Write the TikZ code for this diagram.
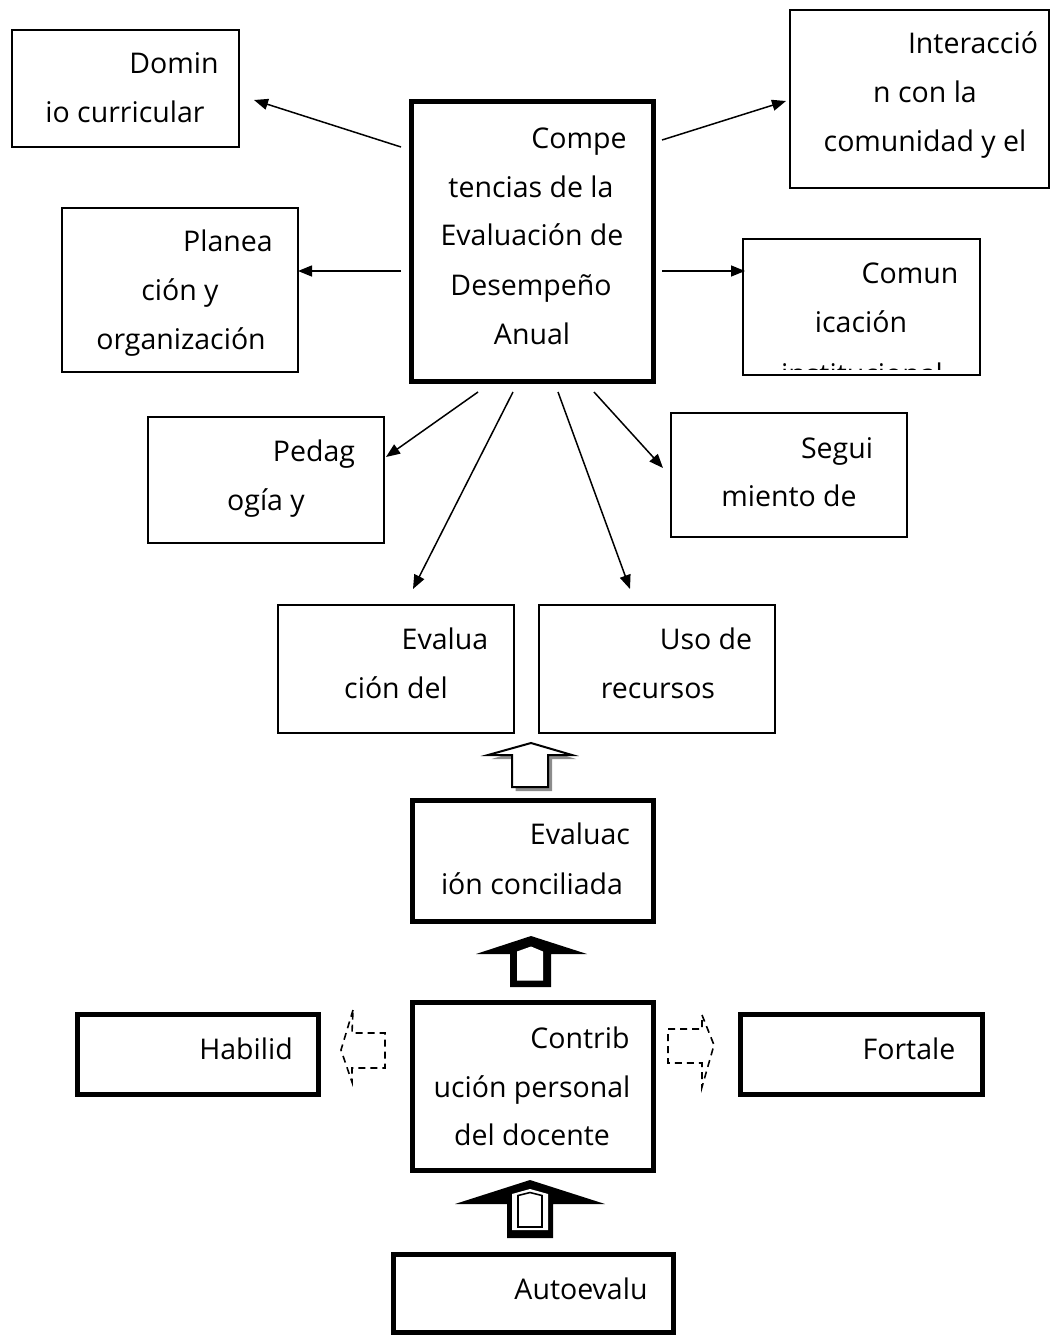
\documentclass[tikz,border=0pt]{standalone}
\usepackage{fontspec}
\setmainfont{Open Sans}
\usetikzlibrary{arrows.meta}
\begin{document}
\begin{tikzpicture}[x=1pt,y=-1pt,
  thinbox/.style={draw=black,line width=1.5pt,inner sep=0pt},
  thickbox/.style={draw=black,line width=5pt,inner sep=0pt},
  txt/.style={anchor=base,inner sep=0pt,font=\fontsize{28.5}{49}\selectfont},
  conn/.style={line width=1.5pt,-{Triangle[length=14pt,width=11pt]}},
  dasharrow/.style={draw=black,line width=1.6pt,dash pattern=on 7pt off 5pt}]
\useasboundingbox (0,0) rectangle (1050,1336);
% thin boxes
\node[thinbox,minimum width=227pt,minimum height=117pt] (dom) at (125.5,88.5) {};
\node[thinbox,minimum width=236pt,minimum height=164pt] (pla) at (180,290) {};
\node[thinbox,minimum width=236pt,minimum height=126pt] (ped) at (266,480) {};
\node[thinbox,minimum width=236pt,minimum height=128pt] (eva) at (396,669) {};
\node[thinbox,minimum width=236pt,minimum height=128pt] (uso) at (657,669) {};
\node[thinbox,minimum width=236pt,minimum height=124pt] (seg) at (789,475) {};
\node[thinbox,minimum width=237pt,minimum height=136pt] (com) at (861.5,307) {};
\node[thinbox,minimum width=259pt,minimum height=178pt] (int) at (919.5,99) {};
% thick boxes
\node[thickbox,minimum width=242pt,minimum height=280pt] (cmp) at (532,241) {};
\node[thickbox,minimum width=241pt,minimum height=121pt] (con) at (532.5,860.5) {};
\node[thickbox,minimum width=241pt,minimum height=168pt] (ctb) at (532.5,1086) {};
\node[thickbox,minimum width=241pt,minimum height=80pt] (hab) at (197.5,1054) {};
\node[thickbox,minimum width=242pt,minimum height=80pt] (for) at (861,1054) {};
\node[thickbox,minimum width=280pt,minimum height=78pt] (aut) at (533,1293) {};
% texts
\node[txt] (t1a) at (174,73) {Domin};
\node[txt] (t1b) at (125,122) {io curricular};
\node[txt] (t2a) at (228,251) {Planea};
\node[txt] (t2b) at (180,300) {ción y};
\node[txt] (t2c) at (181,349) {organización};
\node[txt] (t3a) at (314,461) {Pedag};
\node[txt] (t3b) at (266,510) {ogía y};
\node[txt] (t4a) at (445,649) {Evalua};
\node[txt] (t4b) at (396,698) {ción del};
\node[txt] (t5a) at (706,649) {Uso de};
\node[txt] (t5b) at (658,698) {recursos};
\node[txt] (t6a) at (837,458) {Segui};
\node[txt] (t6b) at (789,506) {miento de};
\node[txt] (t7a) at (910,283) {Comun};
\node[txt] (t7b) at (861,332) {icación};
\begin{scope}
\clip (745,240) rectangle (978,369);
\node[txt] (t7c) at (862,384) {institucional};
\end{scope}
\node[txt] (t8a) at (973,53) {Interacció};
\node[txt] (t8b) at (925,102) {n con la};
\node[txt] (t8c) at (925,151) {comunidad y el};
\node[txt] (t9a) at (579,148) {Compe};
\node[txt] (t9b) at (531,197) {tencias de la};
\node[txt] (t9c) at (532,245) {Evaluación de};
\node[txt] (t9d) at (531,295) {Desempeño};
\node[txt] (t9e) at (532,344) {Anual};
\node[txt] (t10a) at (580,844) {Evaluac};
\node[txt] (t10b) at (532,894) {ión conciliada};
\node[txt] (t11a) at (580,1048) {Contrib};
\node[txt] (t11b) at (532,1097) {ución personal};
\node[txt] (t11c) at (532,1145) {del docente};
\node[txt] (t12) at (246,1059) {Habilid};
\node[txt] (t13) at (909,1059) {Fortale};
\node[txt] (t14) at (581,1299) {Autoevalu};
% connector end points
\coordinate (s1) at (401,147); \coordinate (e1) at (254,100);
\coordinate (s2) at (401,271); \coordinate (e2) at (298,271);
\coordinate (s3) at (478,392); \coordinate (e3) at (386,457);
\coordinate (s4) at (513,392); \coordinate (e4) at (413,589);
\coordinate (s5) at (558,392); \coordinate (e5) at (630,589);
\coordinate (s6) at (594,392); \coordinate (e6) at (663,468);
\coordinate (s7) at (662,271); \coordinate (e7) at (745,271);
\coordinate (s8) at (662,140); \coordinate (e8) at (786,101);
\draw[conn] (s1) -- (e1);
\draw[conn] (s2) -- (e2);
\draw[conn] (s3) -- (e3);
\draw[conn] (s4) -- (e4);
\draw[conn] (s5) -- (e5);
\draw[conn] (s6) -- (e6);
\draw[conn] (s7) -- (e7);
\draw[conn] (s8) -- (e8);
% block arrow 1 (hollow with shadow)
\fill[black!45] (534.5,746) -- (576,759) -- (552,759) -- (552,791) -- (515.5,791) -- (515.5,759) -- (491.5,759) -- cycle;
\filldraw[fill=white,draw=black,line width=2pt,line join=miter] (531,743) -- (572,755) -- (548,755) -- (548,787) -- (512,787) -- (512,755) -- (488,755) -- cycle;
% block arrow 2
\fill[black] (531,936) -- (587,954) -- (551,954) -- (551,987) -- (510,987) -- (510,954) -- (476,954) -- cycle;
\fill[white] (531,946.5) -- (543,951.5) -- (543,980.5) -- (517,980.5) -- (517,951.5) -- cycle;
% block arrow 3
\fill[black] (530,1180) -- (605,1204) -- (553,1204) -- (553,1238) -- (507,1238) -- (507,1204) -- (455,1204) -- cycle;
\fill[white] (530,1189) -- (548,1194) -- (548,1230) -- (512,1230) -- (512,1194) -- cycle;
\draw[black,line width=1.6pt] (530,1192.5) -- (542,1195.5) -- (542,1227) -- (518,1227) -- (518,1195.5) -- cycle;
\fill[white] (520,1197) rectangle (540,1225);
% dashed arrows
\draw[dasharrow] (353,1010) -- (341,1050) -- (352,1082) -- (352,1068) -- (385,1068) -- (385,1033) -- (352,1033) -- cycle;
\draw[dasharrow] (668,1029) -- (702,1029) -- (702,1015) -- (714,1045) -- (702,1087) -- (702,1063) -- (668,1063) -- cycle;
\end{tikzpicture}
\end{document}
